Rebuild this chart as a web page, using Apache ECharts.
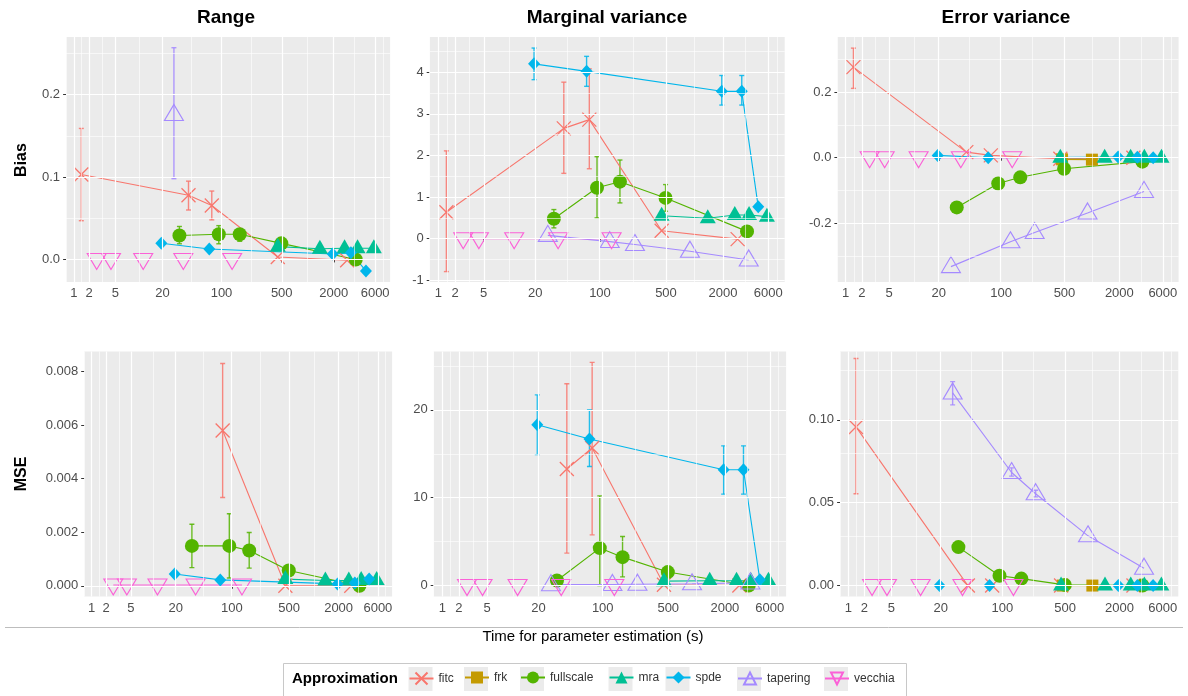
<!DOCTYPE html>
<html><head><meta charset="utf-8">
<script src="https://cdn.jsdelivr.net/npm/echarts@6/dist/echarts.min.js"></script>
<style>html,body{margin:0;padding:0;background:#fff}#c{width:1188px;height:696px}</style>
</head><body><div id="c"></div>
<script>
// ---------- data ----------
const methods = ['fitc','frk','fullscale','mra','spde','tapering','vecchia'];
const methodColors = ['#F8766D','#C49A00','#53B400','#00C094','#00B6EB','#A58AFF','#FB61D7'];
const columnTitles = ['Range','Marginal variance','Error variance'];
const rowTitles = ['Bias','MSE'];
const xAxisTitle = 'Time for parameter estimation (s)';
const legendTitle = 'Approximation';
const xTickLabels = [1,2,5,20,100,500,2000,6000];

// time for parameter estimation (s) per approximation
const timeFitc      = [1.43, 41, 77, 450, 2850];
const timeFrk       = [470, 1000];
const timeFullscale = [32, 93, 163, 495, 3580];
const timeMra       = [450, 1380, 2660, 3760, 5800];
const timeSpde      = [19.4, 72, 1940, 3150, 4700];
const timeTapering  = [27.5, 127, 235, 895, 3730];
const timeVecchia   = [2.66, 4.35, 11.6, 35.6, 133];

// y tick labels per panel
const yTicksRangeBias = [0, 0.1, 0.2];
const yTicksMvBias    = [-1, 0, 1, 2, 3, 4];
const yTicksEvBias    = [-0.2, 0, 0.2];
const yTicksRangeMse  = [0, 0.002, 0.004, 0.006, 0.008];
const yTicksMvMse     = [0, 10, 20];
const yTicksEvMse     = [0, 0.05, 0.10];

// Range - Bias
const rangeBias = {
  fitc: [0.103, 0.078, 0.0655, 0.003, -0.001],
  fullscale: [0.029, 0.0305, 0.0305, 0.0195, 0.0],
  mra: [0.0155, 0.013, 0.0135, 0.0135, 0.0135],
  spde: [0.0196, 0.0126, 0.0065, 0.008, -0.0139],
  tapering: [0.176, null, null, null, null],
  vecchia: [0, 0, 0, 0, 0]
};
const rangeBiasLo = { fitc: [0.047, 0.060, 0.048, null, null], fullscale: [0.019, 0.019, 0.022, 0.015, null], tapering: [0.098, null, null, null, null] };
const rangeBiasHi = { fitc: [0.159, 0.095, 0.083, null, null], fullscale: [0.040, 0.041, 0.037, 0.024, null], tapering: [0.257, null, null, null, null] };

// Marginal variance - Bias
const mvBias = {
  fitc: [0.635, 2.65, 2.86, 0.19, -0.01],
  fullscale: [0.48, 1.225, 1.37, 0.98, 0.176],
  mra: [0.55, 0.49, 0.57, 0.57, 0.53],
  spde: [4.20, 4.02, 3.54, 3.54, 0.765],
  tapering: [0.08, -0.07, -0.14, -0.30, -0.51],
  vecchia: [0, 0, 0, 0, 0]
};
const mvBiasLo = { fitc: [-0.79, 1.57, 1.68, null, null], fullscale: [0.26, 0.50, 0.86, 0.66, null], spde: [3.82, 3.66, 3.21, 3.21, null] };
const mvBiasHi = { fitc: [2.11, 3.76, 4.08, null, null], fullscale: [0.70, 1.97, 1.89, 1.30, null], spde: [4.58, 4.38, 3.92, 3.92, null] };

// Error variance - Bias
const evBias = {
  fitc: [0.277, 0.017, 0.007, -0.003, 0.0],
  frk: [-0.005, -0.006],
  fullscale: [-0.152, -0.079, -0.060, -0.034, -0.012],
  mra: [0.0, 0.0, 0.0, 0.0, 0.0],
  spde: [0.007, 0.0, 0.002, 0.001, 0.0],
  tapering: [-0.333, -0.257, -0.229, -0.169, -0.103],
  vecchia: [0, 0, 0, 0, 0]
};
const evBiasLo = { fitc: [0.212, null, null, null, null] };
const evBiasHi = { fitc: [0.335, null, null, null, null] };

// Range - MSE
const rangeMse = {
  fitc: [null, null, 0.0058, 0.0, 0.0],
  fullscale: [0.00149, 0.00149, 0.00132, 0.00057, 0.0],
  mra: [0.00025, 0.0002, 0.0002, 0.00022, 0.00022],
  spde: [0.00044, 0.00022, 0.00007, 0.0001, 0.00025],
  vecchia: [0.00003, 0.00003, 0.00003, 0.00003, 0.00003]
};
const rangeMseLo = { fitc: [null, null, 0.0033, null, null], fullscale: [0.00068, 0.00029, 0.00066, 0.00042, null] };
const rangeMseHi = { fitc: [null, null, 0.0083, null, null], fullscale: [0.0023, 0.00269, 0.00199, 0.0007, null] };

// Marginal variance - MSE
const mvMse = {
  fitc: [null, 13.26, 15.65, 0.08, 0.0],
  fullscale: [0.57, 4.26, 3.23, 1.53, 0.0],
  mra: [0.5, 0.55, 0.55, 0.55, 0.55],
  spde: [18.3, 16.67, 13.18, 13.18, 0.65],
  tapering: [0.1, 0.12, 0.15, 0.2, 0.3],
  vecchia: [0, 0, 0, 0, 0]
};
const mvMseLo = { fitc: [null, 3.69, 5.77, null, null], fullscale: [null, 0.0, 0.98, null, null], spde: [14.9, 13.55, 10.4, 10.4, null] };
const mvMseHi = { fitc: [null, 22.97, 25.4, null, null], fullscale: [null, 10.2, 5.58, null, null], spde: [21.7, 20.0, 15.9, 15.9, null] };

// Error variance - MSE
const evMse = {
  fitc: [0.0957, 0.0, 0.0, 0.0, 0.0],
  frk: [0.0, 0.0],
  fullscale: [0.0232, 0.0059, 0.0042, 0.0004, 0.0],
  mra: [0, 0, 0, 0, 0],
  spde: [0, 0, 0, 0, 0],
  tapering: [0.1162, 0.0682, 0.0554, 0.030, 0.0105],
  vecchia: [0, 0, 0, 0, 0]
};
const evMseLo = { fitc: [0.0554, null, null, null, null], tapering: [0.109, 0.066, 0.0535, null, null] };
const evMseHi = { fitc: [0.137, null, null, null, null], tapering: [0.123, 0.071, 0.0575, null, null] };

// ---------- layout / styling ----------
const methodTimes = { fitc: timeFitc, frk: timeFrk, fullscale: timeFullscale, mra: timeMra, spde: timeSpde, tapering: timeTapering, vecchia: timeVecchia };
const FONT = "'Liberation Sans', Arial, Helvetica, sans-serif";
const tx = t => Math.log10(t + 1);           // log10(x + 1) axis transform
const XMIN = 0.21, XMAX = 3.951;

const panels = [
  { left: 66.1,  top: 37,    width: 324,   height: 245, ymin: -0.0274, ymax: 0.270,  ticks: yTicksRangeBias, dec: 1, val: rangeBias, lo: rangeBiasLo, hi: rangeBiasHi },
  { left: 429.7, top: 37,    width: 355,   height: 245, ymin: -1.04,   ymax: 4.845,  ticks: yTicksMvBias,    dec: 0, val: mvBias,    lo: mvBiasLo,    hi: mvBiasHi },
  { left: 837.4, top: 37,    width: 341.2, height: 245, ymin: -0.380,  ymax: 0.369,  ticks: yTicksEvBias,    dec: 1, val: evBias,    lo: evBiasLo,    hi: evBiasHi },
  { left: 84.2,  top: 351.5, width: 307.9, height: 245, ymin: -0.0004, ymax: 0.00875,ticks: yTicksRangeMse,  dec: 3, val: rangeMse,  lo: rangeMseLo,  hi: rangeMseHi },
  { left: 433.7, top: 351.5, width: 352.4, height: 245, ymin: -1.25,   ymax: 26.64,  ticks: yTicksMvMse,     dec: 0, val: mvMse,     lo: mvMseLo,     hi: mvMseHi },
  { left: 840.1, top: 351.5, width: 338.2, height: 245, ymin: -0.0066, ymax: 0.1412, ticks: yTicksEvMse,     dec: 2, val: evMse,     lo: evMseLo,     hi: evMseHi }
];

const symbolStyles = {
  fitc:      { symbol: 'path://M0 0L10 10M10 0L0 10', size: 14, hollow: true, bw: 1.3 },
  frk:       { symbol: 'rect', size: 12 },
  fullscale: { symbol: 'circle', size: 14 },
  mra:       { symbol: 'triangle', size: [16, 14], offset: [0, -2] },
  spde:      { symbol: 'diamond', size: [12, 13] },
  tapering:  { symbol: 'triangle', size: [19, 16], hollow: true, bw: 1.1, offset: [0, -2] },
  vecchia:   { symbol: 'triangle', size: [19, 16], hollow: true, bw: 1.1, rotate: 180, offset: [0, 2] }
};

function minorBreaks(b, lo, hi) {
  const bd = b[1] - b[0];
  const e = b.slice();
  if (lo < e[0]) e.unshift(e[0] - bd);
  if (hi > e[e.length - 1]) e.push(e[e.length - 1] + bd);
  const out = [];
  for (let i = 0; i < e.length - 1; i++) { const m = (e[i] + e[i + 1]) / 2; if (m > lo && m < hi) out.push(m); }
  return out;
}

const xMajor = xTickLabels.map(tx);
const xMinor = minorBreaks(xMajor, XMIN, XMAX);

const grids = [], xAxes = [], yAxes = [], series = [];
panels.forEach((p, pi) => {
  grids.push({ left: p.left, top: p.top, width: p.width, height: p.height, show: true, backgroundColor: '#EBEBEB', borderWidth: 0, containLabel: false });
  xAxes.push({
    type: 'value', gridIndex: pi, min: XMIN, max: XMAX,
    axisLine: { show: false }, splitLine: { show: false },
    axisTick: { show: true, customValues: xMajor, length: 3, lineStyle: { color: '#333333', width: 1 } },
    axisLabel: { customValues: xMajor, formatter: v => String(Math.round(Math.pow(10, v) - 1)), color: '#4D4D4D', fontSize: 13, fontFamily: FONT, margin: 5 }
  });
  yAxes.push({
    type: 'value', gridIndex: pi, min: p.ymin, max: p.ymax,
    axisLine: { show: false }, splitLine: { show: false },
    axisTick: { show: true, customValues: p.ticks, length: 3, lineStyle: { color: '#333333', width: 1 } },
    axisLabel: { customValues: p.ticks, formatter: v => v.toFixed(p.dec), color: '#4D4D4D', fontSize: 13, fontFamily: FONT, margin: 6 }
  });
  const yMinor = minorBreaks(p.ticks, p.ymin, p.ymax);
  const ml = [];
  xMinor.forEach(v => ml.push({ xAxis: v, lineStyle: { color: '#FFFFFF', width: 0.6, type: 'solid' } }));
  yMinor.forEach(v => ml.push({ yAxis: v, lineStyle: { color: '#FFFFFF', width: 0.6, type: 'solid' } }));
  xMajor.forEach(v => ml.push({ xAxis: v, lineStyle: { color: '#FFFFFF', width: 1.2, type: 'solid' } }));
  p.ticks.forEach(v => ml.push({ yAxis: v, lineStyle: { color: '#FFFFFF', width: 1.2, type: 'solid' } }));
  series.push({
    type: 'line', name: 'grid' + pi, xAxisIndex: pi, yAxisIndex: pi, data: [], z: 1, silent: true, animation: false,
    markLine: { silent: true, symbol: ['none', 'none'], label: { show: false }, animation: false, emphasis: { disabled: true }, data: ml }
  });

  methods.forEach((m, mi) => {
    const vals = p.val[m];
    if (!vals) return;
    const times = methodTimes[m];
    const col = methodColors[mi];
    const st = symbolStyles[m];
    const pts = [];
    vals.forEach((v, i) => { if (v !== null && v !== undefined) pts.push([tx(times[i]), v]); });
    if (!pts.length) return;
    // error bars
    const lo = p.lo[m], hi = p.hi[m];
    if (lo && hi) {
      const bars = [];
      lo.forEach((l, i) => { if (l !== null && hi[i] !== null && vals[i] !== null) bars.push([tx(times[i]), l, hi[i]]); });
      if (bars.length) {
        series.push({
          type: 'custom', name: m + ' error', xAxisIndex: pi, yAxisIndex: pi, clip: true, z: 2, silent: true, animation: false,
          data: bars,
          renderItem: (params, api) => {
            const a = api.coord([api.value(0), api.value(1)]);
            const b = api.coord([api.value(0), api.value(2)]);
            const hw = 2.5;
            const s = { stroke: col, lineWidth: 1.4, opacity: 0.85 };
            return { type: 'group', children: [
              { type: 'line', shape: { x1: a[0], y1: a[1], x2: b[0], y2: b[1] }, style: s },
              { type: 'line', shape: { x1: a[0] - hw, y1: a[1], x2: a[0] + hw, y2: a[1] }, style: s },
              { type: 'line', shape: { x1: b[0] - hw, y1: b[1], x2: b[0] + hw, y2: b[1] }, style: s }
            ] };
          }
        });
      }
    }
    series.push({
      type: 'line', name: m, xAxisIndex: pi, yAxisIndex: pi, data: pts, z: 3, animation: false,
      symbol: st.symbol, symbolSize: st.size, symbolRotate: st.rotate || 0, symbolOffset: st.offset || [0, 0],
      showSymbol: true, lineStyle: { color: col, width: 1.1 },
      itemStyle: st.hollow ? { color: 'rgba(0,0,0,0)', borderColor: col, borderWidth: st.bw } : { color: col, borderWidth: 0 },
      emphasis: { disabled: true }
    });
  });
});

// legend: one component per key so each key sits on its own grey square
const legendKeyLeft = [408.5, 464, 520, 608.5, 665.5, 737, 824];
const legends = methods.map((m, i) => ({
  data: [m], left: legendKeyLeft[i], top: 671.5, padding: 0, itemWidth: 24, itemHeight: 15,
  selectedMode: false, textStyle: { fontSize: 12, color: '#333333', fontFamily: FONT }
}));

const graphics = [];
// legend box and key backgrounds
graphics.push({ type: 'rect', shape: { x: 283.5, y: 663.5, width: 623, height: 36 }, style: { fill: '#FFFFFF', stroke: '#C8C8C8', lineWidth: 1 }, z: -1 });
legendKeyLeft.forEach(x => graphics.push({ type: 'rect', shape: { x: x, y: 667, width: 24, height: 24 }, style: { fill: '#EBEBEB' }, z: 0 }));
graphics.push({ type: 'text', x: 292, y: 679, style: { text: legendTitle, fontSize: 15, fontWeight: 'bold', fontFamily: FONT, fill: '#000', verticalAlign: 'middle' } });
// column titles
const colCenters = [226, 607, 1006];
columnTitles.forEach((t, i) => graphics.push({ type: 'text', x: colCenters[i], y: 18, style: { text: t, fontSize: 19, fontWeight: 'bold', fontFamily: FONT, fill: '#000', align: 'center', verticalAlign: 'middle' } }));
// row titles
const rowCenters = [160, 474];
rowTitles.forEach((t, i) => graphics.push({ type: 'text', x: 22, y: rowCenters[i], rotation: Math.PI / 2, style: { text: t, fontSize: 16, fontWeight: 'bold', fontFamily: FONT, fill: '#000', align: 'center', verticalAlign: 'middle' } }));
// separator line and x axis title
graphics.push({ type: 'line', shape: { x1: 5, y1: 627.5, x2: 1183, y2: 627.5 }, style: { stroke: '#BDBDBD', lineWidth: 1 } });
graphics.push({ type: 'text', x: 593, y: 637, style: { text: xAxisTitle, fontSize: 15, fontFamily: FONT, fill: '#000', align: 'center', verticalAlign: 'middle' } });

const chart = echarts.init(document.getElementById('c'), null, { renderer: 'canvas' });
chart.setOption({
  backgroundColor: '#FFFFFF',
  animation: false,
  textStyle: { fontFamily: FONT },
  grid: grids, xAxis: xAxes, yAxis: yAxes,
  legend: legends,
  series: series,
  graphic: graphics
});
</script></body></html>
